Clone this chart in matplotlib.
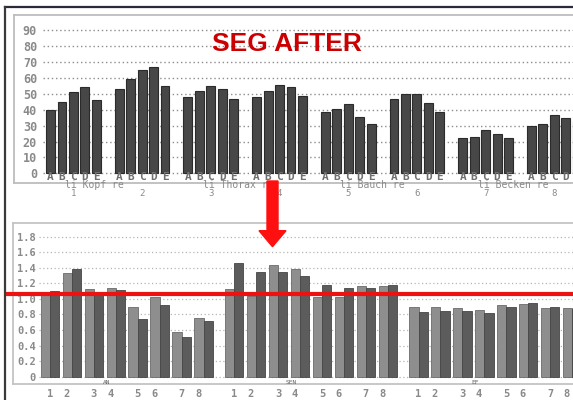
import matplotlib
matplotlib.use("Agg")
import matplotlib.pyplot as plt
import numpy as np
from matplotlib.lines import Line2D
from matplotlib.patches import FancyArrow
from matplotlib.transforms import Affine2D

# ---------------------------------------------------------------------------
# Data
# ---------------------------------------------------------------------------
top_letters = ["A", "B", "C", "D", "E"]
top_group_ids = ["1", "2", "3", "4", "5", "6", "7", "8"]
top_regions = ["Kopf", "Thorax", "Bauch", "Becken"]
top_values = [
    [40, 45, 51, 54, 46],
    [53, 59, 65, 67, 55],
    [48, 52, 55, 53, 47],
    [48, 52, 55.5, 54, 48.5],
    [38.5, 40.5, 43.5, 35.5, 31],
    [47, 50, 50, 44, 38.5],
    [22, 23, 27, 24.5, 22.5],
    [29.5, 31, 36.5, 34.5, 33],
]
top_yticks = [0, 10, 20, 30, 40, 50, 60, 70, 80, 90]

bottom_groups = ["AN", "SEN", "EF"]
bottom_pairs = ["1", "2", "3", "4", "5", "6", "7", "8"]
bottom_light = [
    [1.06, 1.33, 1.13, 1.14, 0.90, 1.03, 0.58, 0.76],
    [1.13, 1.04, 1.44, 1.39, 1.03, 1.02, 1.17, 1.17],
    [0.90, 0.90, 0.88, 0.86, 0.92, 0.93, 0.88, 0.88],
]
bottom_dark = [
    [1.10, 1.39, 1.09, 1.11, 0.74, 0.92, 0.51, 0.72],
    [1.46, 1.35, 1.34, 1.29, 1.18, 1.14, 1.14, 1.18],
    [0.83, 0.845, 0.845, 0.815, 0.90, 0.95, 0.89, 0.87],
]
bottom_yticks = [0, 0.2, 0.4, 0.6, 0.8, 1.0, 1.2, 1.4, 1.6, 1.8]
bottom_ytick_labels = ["0", "0.2", "0.4", "0.6", "0.8", "1.0", "1.2", "1.4", "1.6", "1.8"]
ref_level = 1.06

title = "SEG AFTER"

MONO = "DejaVu Sans Mono"
W, H = 573, 400

fig = plt.figure(figsize=(W / 100, H / 100), dpi=100)
fig.patch.set_facecolor("white")
px = Affine2D().scale(1 / 100) + fig.dpi_scale_trans  # figure pixel units (y up)

# ---------------------------------------------------------------------------
# Top chart: 8 groups x 5 bars
# ---------------------------------------------------------------------------
ax1 = fig.add_axes([14 / W, 1 - 182.7 / H, 586 / W, 167.7 / H])
ax1.set_xlim(-3.19, 47.99)
ax1.set_ylim(-5.91, 99.56)

for g, vals in enumerate(top_values):
    xs = g * 6 + np.arange(len(vals))
    ax1.bar(xs, vals, width=0.78, color="#474747", edgecolor="#2b2b2b",
            linewidth=0.8, zorder=3)
    for x, letter in zip(xs, top_letters):
        if x > 46.5:
            continue  # falls off the cropped right edge
        ax1.text(x, -2.2, letter, ha="center", va="center", fontsize=8,
                 family=MONO, fontweight="bold", color="#707070", zorder=4)
    ax1.text(g * 6 + 2, -12.9, top_group_ids[g], ha="center", va="center",
             fontsize=6.5, family=MONO, color="#8a8a8a", clip_on=False)

for i, name in enumerate(top_regions):
    ax1.text(i * 12 + 2 - 0.7, -7.6, f"li {name} re", ha="left", va="center",
             fontsize=7, family=MONO, color="#8a8a8a", clip_on=False)

ax1.hlines(top_yticks, 0.05, 1, transform=ax1.get_yaxis_transform(),
           colors="#8c8c8c", linestyles=(0, (1, 2)), linewidth=1.0, zorder=1)
ax1.set_yticks(top_yticks)
ax1.set_yticklabels([str(v) for v in top_yticks])
ax1.tick_params(axis="y", length=0, pad=-16.6, labelsize=8.5, labelcolor="#8a8a8a")
for lab in ax1.get_yticklabels():
    lab.set_family(MONO)
    lab.set_fontweight("bold")
ax1.set_xticks([])
for s in ax1.spines.values():
    s.set_color("#bdbdbd")
    s.set_linewidth(1.3)

# ---------------------------------------------------------------------------
# Bottom chart: 3 groups x 8 pairs of bars
# ---------------------------------------------------------------------------
ax2 = fig.add_axes([13 / W, 1 - 384 / H, 587 / W, 161.3 / H])
ax2.set_xlim(-1.2625, 25.49)
ax2.set_ylim(-0.094, 1.98)

bw = 0.42
tick_pos, tick_lab = [], []
for G in range(len(bottom_groups)):
    base = G * 8.4 + np.arange(len(bottom_pairs))
    ax2.bar(base, bottom_light[G], width=bw, align="edge", color="#8e8e8e",
            edgecolor="#6a6a6a", linewidth=0.6, zorder=3)
    ax2.bar(base + bw, bottom_dark[G], width=bw, align="edge", color="#5c5c5c",
            edgecolor="#454545", linewidth=0.6, zorder=3)
    # the old printout sets the even labels a little to the left
    shift = np.where(np.arange(len(bottom_pairs)) % 2 == 1, -0.25, 0.0)
    tick_pos.extend(base + bw + shift)
    tick_lab.extend(bottom_pairs)
    ax2.text(G * 8.4 + 3.0, -0.075, bottom_groups[G], ha="center", va="center",
             fontsize=4.5, family=MONO, color="#666666", zorder=4)

ax2.hlines(bottom_yticks, 0.044, 1, transform=ax2.get_yaxis_transform(),
           colors="#b5b5b5", linestyles=(0, (1, 2)), linewidth=0.9, zorder=1)
ax2.set_yticks(bottom_yticks)
ax2.set_yticklabels(bottom_ytick_labels)
ax2.tick_params(axis="y", length=0, pad=-16.6, labelsize=7.5, labelcolor="#8a8a8a")
ax2.set_xticks(tick_pos)
ax2.set_xticklabels(tick_lab)
ax2.tick_params(axis="x", length=0, pad=3.5, labelsize=7.5, labelcolor="#8a8a8a")
for lab in ax2.get_yticklabels() + ax2.get_xticklabels():
    lab.set_family(MONO)
    lab.set_fontweight("bold")
for s in ax2.spines.values():
    s.set_color("#c4c4c4")
    s.set_linewidth(1.3)

# red reference line across the lower chart
ax2.axhline(ref_level, xmin=-0.0102, xmax=1, color="#ee1111", linewidth=3,
            clip_on=False, zorder=6)

# ---------------------------------------------------------------------------
# Annotations: title, arrow, scan border
# ---------------------------------------------------------------------------
fig.text(286.5 / W, 1 - 44 / H, title, ha="center", va="center", fontsize=19,
         fontweight="bold", family="Liberation Sans", color="#cc0000")

fig.patches.append(FancyArrow(272.5, H - 181, 0, -(246.7 - 181), width=11,
                              head_width=27, head_length=16,
                              length_includes_head=True, color="#ff1010",
                              transform=px, figure=fig, zorder=10))

fig.lines.append(Line2D([5, W], [H - 7, H - 7], color="#2a2a3a", linewidth=1.6,
                        transform=px, figure=fig))
fig.lines.append(Line2D([5, 5], [0, H - 7], color="#3a3a3a", linewidth=1.6,
                        transform=px, figure=fig))

plt.savefig("out.png", dpi=100)
plt.close()
